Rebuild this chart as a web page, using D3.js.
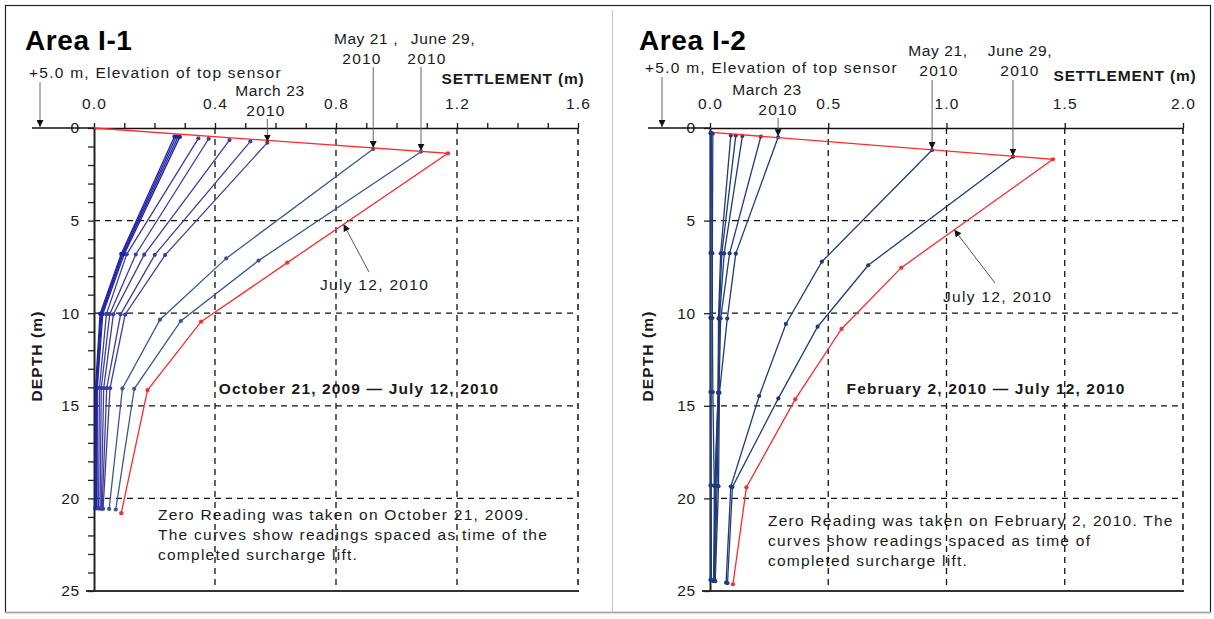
<!DOCTYPE html>
<html><head><meta charset="utf-8">
<script src="https://cdn.jsdelivr.net/npm/d3@7"></script>
<style>html,body{margin:0;padding:0;background:#fff;}svg{display:block;font-family:"Liberation Sans",Arial,sans-serif;}</style>
</head><body>
<script>
// ---------------- DATA ----------------
// Area I-1 (settlement in m, depth in m); last series = July 12, 2010 (red)
const leftNames = ["Reading 1","Reading 2","Reading 3","Reading 4","Reading 5","Reading 6","Reading 7","Reading 8","March 23, 2010","May 21, 2010","June 29, 2010","July 12, 2010"];
const leftSettle = [
  [0.266, 0.090, 0.020, 0.005, 0.004],
  [0.272, 0.093, 0.023, 0.007, 0.006],
  [0.278, 0.096, 0.026, 0.009, 0.008],
  [0.284, 0.100, 0.029, 0.011, 0.010],
  [0.345, 0.108, 0.041, 0.018, 0.015],
  [0.379, 0.138, 0.052, 0.024, 0.020],
  [0.448, 0.166, 0.064, 0.032, 0.024],
  [0.517, 0.201, 0.088, 0.042, 0.027],
  [0.573, 0.235, 0.103, 0.053, 0.030],
  [0.923, 0.437, 0.218, 0.094, 0.050],
  [1.081, 0.544, 0.287, 0.133, 0.072],
  [0.000, 1.170, 0.639, 0.354, 0.177, 0.090]
];
const leftDepth = [
  [0.46, 6.80, 10.03, 14.02, 20.52],
  [0.46, 6.80, 10.03, 14.02, 20.52],
  [0.47, 6.81, 10.04, 14.03, 20.53],
  [0.48, 6.81, 10.04, 14.03, 20.53],
  [0.56, 6.82, 10.05, 14.04, 20.54],
  [0.58, 6.83, 10.05, 14.04, 20.54],
  [0.65, 6.84, 10.06, 14.05, 20.55],
  [0.72, 6.85, 10.06, 14.05, 20.55],
  [0.79, 6.86, 10.07, 14.05, 20.56],
  [1.13, 7.04, 10.35, 14.06, 20.57],
  [1.28, 7.16, 10.42, 14.08, 20.60],
  [0.00, 1.37, 7.27, 10.46, 14.15, 20.80]
];
// Area I-2
const rightNames = ["Reading 1","Reading 2","Reading 3","Reading 4","Reading 5","Reading 6","Reading 7","March 23, 2010","May 21, 2010","June 29, 2010","July 12, 2010"];
const rightSettle = [
  [0.002, 0.002, 0.002, 0.002, 0.002, 0.002],
  [0.006, 0.004, 0.003, 0.004, 0.005, 0.006],
  [0.012, 0.010, 0.010, 0.012, 0.018, 0.020],
  [0.088, 0.045, 0.036, 0.034, 0.020, 0.015],
  [0.109, 0.050, 0.038, 0.035, 0.022, 0.017],
  [0.137, 0.060, 0.040, 0.037, 0.025, 0.018],
  [0.215, 0.083, 0.045, 0.038, 0.030, 0.020],
  [0.288, 0.109, 0.073, 0.040, 0.036, 0.022],
  [0.939, 0.473, 0.321, 0.208, 0.088, 0.068],
  [1.281, 0.669, 0.455, 0.289, 0.095, 0.074],
  [0.020, 1.450, 0.809, 0.556, 0.360, 0.154, 0.097]
];
const rightDepth = [
  [0.28, 6.75, 10.25, 14.25, 19.30, 24.40],
  [0.28, 6.75, 10.25, 14.25, 19.30, 24.40],
  [0.30, 6.76, 10.26, 14.26, 19.31, 24.42],
  [0.40, 6.77, 10.28, 14.29, 19.33, 24.46],
  [0.41, 6.77, 10.28, 14.29, 19.33, 24.46],
  [0.43, 6.77, 10.28, 14.29, 19.33, 24.46],
  [0.46, 6.77, 10.28, 14.29, 19.33, 24.46],
  [0.50, 6.78, 10.29, 14.30, 19.34, 24.47],
  [1.19, 7.22, 10.58, 14.47, 19.36, 24.55],
  [1.55, 7.41, 10.73, 14.60, 19.38, 24.57],
  [0.25, 1.69, 7.54, 10.85, 14.65, 19.40, 24.64]
];
const leftXTicks = [0, 0.4, 0.8, 1.2, 1.6];
const rightXTicks = [0, 0.5, 1.0, 1.5, 2.0];
const depthTicks = [0, 5, 10, 15, 20, 25];

// ---------------- DRAW ----------------
const W = 1214, H = 619;
const svg = d3.select("body").append("svg").attr("width", W).attr("height", H);
svg.append("rect").attr("width", W).attr("height", H).attr("fill", "#fff");
svg.append("rect").attr("x", 5.5).attr("y", 5.5).attr("width", 1205).attr("height", 607)
  .attr("fill", "none").attr("stroke", "#222").attr("stroke-width", 1.2);
svg.append("line").attr("x1", 5).attr("x2", 1211).attr("y1", 612.5).attr("y2", 612.5).attr("stroke", "#aaa").attr("stroke-width", 1.5);
svg.append("line").attr("x1", 612.5).attr("x2", 612.5).attr("y1", 10).attr("y2", 612).attr("stroke", "#ccc").attr("stroke-width", 1.2);

const defs = svg.append("defs");
defs.append("marker").attr("id", "arr").attr("viewBox", "0 0 10 10").attr("refX", 10).attr("refY", 5)
  .attr("markerWidth", 7).attr("markerHeight", 7).attr("markerUnits", "userSpaceOnUse").attr("orient", "auto")
  .append("path").attr("d", "M0,0L10,5L0,10z").attr("fill", "#111");

const FONT = 15.5;
function txt(g, x, y, s, opts = {}) {
  return g.append("text").attr("x", x).attr("y", y).text(s)
    .attr("font-size", opts.size || FONT).attr("font-weight", opts.bold ? "bold" : "normal")
    .attr("text-anchor", opts.anchor || "start").attr("fill", opts.fill || "#1a1a1a")
    .attr("letter-spacing", opts.ls || 0);
}
function arrow(g, x1, y1, x2, y2, color) {
  g.append("line").attr("x1", x1).attr("y1", y1).attr("x2", x2).attr("y2", y2)
    .attr("stroke", color || "#666").attr("stroke-width", 1).attr("marker-end", "url(#arr)");
}

function drawPanel(p) {
  const g = svg.append("g");
  const [x0, x1] = p.x.range();
  const [y0, y1] = p.y.range();
  // gridlines
  g.selectAll(null).data(p.gridX).join("line")
    .attr("x1", d => p.x(d)).attr("x2", d => p.x(d)).attr("y1", y0).attr("y2", y1)
    .attr("stroke", "#111").attr("stroke-width", 1.3).attr("stroke-dasharray", "6,5");
  g.selectAll(null).data([5, 10, 15, 20]).join("line")
    .attr("x1", x0).attr("x2", x1).attr("y1", d => p.y(d)).attr("y2", d => p.y(d))
    .attr("stroke", "#111").attr("stroke-width", 1.3).attr("stroke-dasharray", "6,5");
  g.append("line").attr("x1", x1).attr("x2", x1).attr("y1", y0).attr("y2", y1)
    .attr("stroke", "#111").attr("stroke-width", 1.5).attr("stroke-dasharray", "6,5");
  // bottom axis line
  g.append("line").attr("x1", x0 - 8).attr("x2", x1 + 1).attr("y1", y1).attr("y2", y1)
    .attr("stroke", "#333").attr("stroke-width", 2.2);
  // left axis
  const ax = d3.axisLeft(p.y).tickValues(p.yTicks).tickSize(6).tickPadding(8).tickSizeOuter(0)
    .tickFormat(d => d % 5 === 0 ? d3.format("d")(d) : "");
  const ga = g.append("g").attr("transform", `translate(${x0},0)`).call(ax);
  ga.select(".domain").attr("stroke", "#222").attr("stroke-width", 2);
  ga.selectAll(".tick line").attr("stroke", "#222").attr("stroke-width", 1.3);
  ga.selectAll(".tick text").attr("font-size", FONT).attr("fill", "#1a1a1a").attr("font-family", null).attr("letter-spacing", 0.8);
  // top axis
  const tx = d3.axisTop(p.x).tickValues(p.xTickAll).tickSize(5).tickPadding(14).tickSizeOuter(0)
    .tickFormat(d => p.xTicks.some(t => Math.abs(t - d) < 1e-6) ? d3.format(".1f")(d) : "");
  const gt = g.append("g").attr("transform", `translate(0,${y0})`).call(tx);
  gt.select(".domain").attr("stroke", "#111").attr("stroke-width", 1.5);
  gt.selectAll(".tick line").attr("stroke", "#111").attr("stroke-width", 1.3);
  gt.selectAll(".tick text").attr("font-size", FONT).attr("fill", "#1a1a1a").attr("font-family", null).attr("letter-spacing", 1.2);
  g.append("line").attr("x1", p.extX).attr("x2", x0).attr("y1", y0).attr("y2", y0)
    .attr("stroke", "#111").attr("stroke-width", 1.5);

  // series
  const line = d3.line().x(d => p.x(d[0])).y(d => p.y(d[1]));
  p.settle.forEach((s, i) => {
    const pts = s.map((v, k) => [v, p.depth[i][k]]);
    const col = p.colors[i];
    const isRed = i === p.settle.length - 1;
    g.append("path").datum(pts).attr("d", line).attr("fill", "none").attr("stroke", col).attr("stroke-width", 1.3);
    g.selectAll(null).data(pts.slice(isRed ? 1 : 0)).join("circle")
      .attr("cx", d => p.x(d[0])).attr("cy", d => p.y(d[1])).attr("r", 2.1).attr("fill", col);
  });

  // titles and labels
  txt(g, p.titleX, 50, p.title, { size: 28, bold: true, fill: "#000", ls: 0.6 });
  txt(g, p.elevX, p.elevY, "+5.0 m, Elevation of top sensor", { ls: 1.25 });
  arrow(g, p.elevArrowX, p.elevY + 4, p.elevArrowX, y0 - 1, "#666");
  txt(g, p.settleLabelX, p.settleLabelY, "SETTLEMENT (m)", { bold: true, anchor: "middle", ls: 0.8 });
  g.append("text").attr("transform", `translate(${p.depthLabelX},356) rotate(-90)`)
    .attr("text-anchor", "middle").attr("font-size", FONT).attr("font-weight", "bold").attr("fill", "#1a1a1a")
    .attr("letter-spacing", 1.1).text("DEPTH (m)");

  // date annotations pointing to top sensor of each reading
  p.dates.forEach(dd => {
    const s = p.settle[dd.i], dp = p.depth[dd.i];
    const ax0 = p.x(s[0]), ay = p.y(dp[0]);
    txt(g, dd.lx, dd.ly, dd.l1, { anchor: "middle", ls: 0.6 });
    txt(g, dd.lx2, dd.ly + 20, "2010", { anchor: "middle", ls: 1.2 });
    arrow(g, ax0, dd.ay0, ax0, ay - 1, "#666");
  });

  // July 12 annotation
  txt(g, p.julyX, p.julyY, "July 12, 2010", { ls: 1.3 });
  arrow(g, p.julyFrom[0], p.julyFrom[1], p.x(p.julyTo[0]), p.y(p.julyTo[1]), "#555");

  txt(g, p.periodX, 394, p.period, { bold: true, anchor: "middle", ls: 1.15 });
  p.notes.forEach((n, k) => txt(g, p.noteX, p.noteY + k * 20, n, { ls: 1.25 }));
}

const blueL = leftNames.map((n, i) => i < 4 ? "#2323a6" : i < 9 ? "#3d3da0" : i < 11 ? "#3b5793" : "#ff2b2b");
const blueR = rightNames.map((n, i) => i < 10 ? "#1f3b7c" : "#ff2b2b");

drawPanel({
  x: d3.scaleLinear().domain([0, 1.6]).range([94, 578]),
  y: d3.scaleLinear().domain([0, 25]).range([128, 591]),
  gridX: [0.4, 0.8, 1.2], xTicks: leftXTicks, xTickAll: d3.range(0, 17).map(i => i / 10),
  yTicks: d3.range(0, 26), extX: 32,
  settle: leftSettle, depth: leftDepth, colors: blueL,
  title: "Area I-1", titleX: 25,
  elevX: 29, elevY: 78, elevArrowX: 40,
  settleLabelX: 513, settleLabelY: 84, depthLabelX: 42,
  dates: [
    { i: 8, l1: "March 23", lx: 270, lx2: 266, ly: 96, ay0: 119 },
    { i: 9, l1: "May 21 ,", lx: 366, lx2: 362, ly: 44, ay0: 67 },
    { i: 10, l1: "June 29,", lx: 443, lx2: 427, ly: 44, ay0: 67 }
  ],
  julyX: 320, julyY: 290, julyFrom: [369, 272], julyTo: [0.825, 5.2],
  period: "October 21, 2009 \u2014 July 12, 2010", periodX: 359,
  notes: ["Zero Reading was taken on October 21, 2009.", "The curves show readings spaced as time of the", "completed surcharge lift."],
  noteX: 158, noteY: 520
});

drawPanel({
  x: d3.scaleLinear().domain([0, 2.0]).range([710, 1183]),
  y: d3.scaleLinear().domain([0, 25]).range([128, 591]),
  gridX: [0.5, 1.0, 1.5], xTicks: rightXTicks, xTickAll: rightXTicks,
  yTicks: depthTicks, extX: 648,
  settle: rightSettle, depth: rightDepth, colors: blueR,
  title: "Area I-2", titleX: 639,
  elevX: 645, elevY: 73, elevArrowX: 662,
  settleLabelX: 1125, settleLabelY: 81, depthLabelX: 653,
  dates: [
    { i: 7, l1: "March 23", lx: 767, lx2: 778, ly: 95, ay0: 118 },
    { i: 8, l1: "May 21,", lx: 938, lx2: 939, ly: 56, ay0: 80 },
    { i: 9, l1: "June 29,", lx: 1020, lx2: 1020, ly: 56, ay0: 80 }
  ],
  julyX: 943, julyY: 302, julyFrom: [995, 283], julyTo: [1.033, 5.5],
  period: "February 2, 2010 \u2014 July 12, 2010", periodX: 986,
  notes: ["Zero Reading was taken on February 2, 2010. The", "curves show readings spaced as time of", "completed surcharge lift."],
  noteX: 768, noteY: 526
});
</script>
</body></html>
